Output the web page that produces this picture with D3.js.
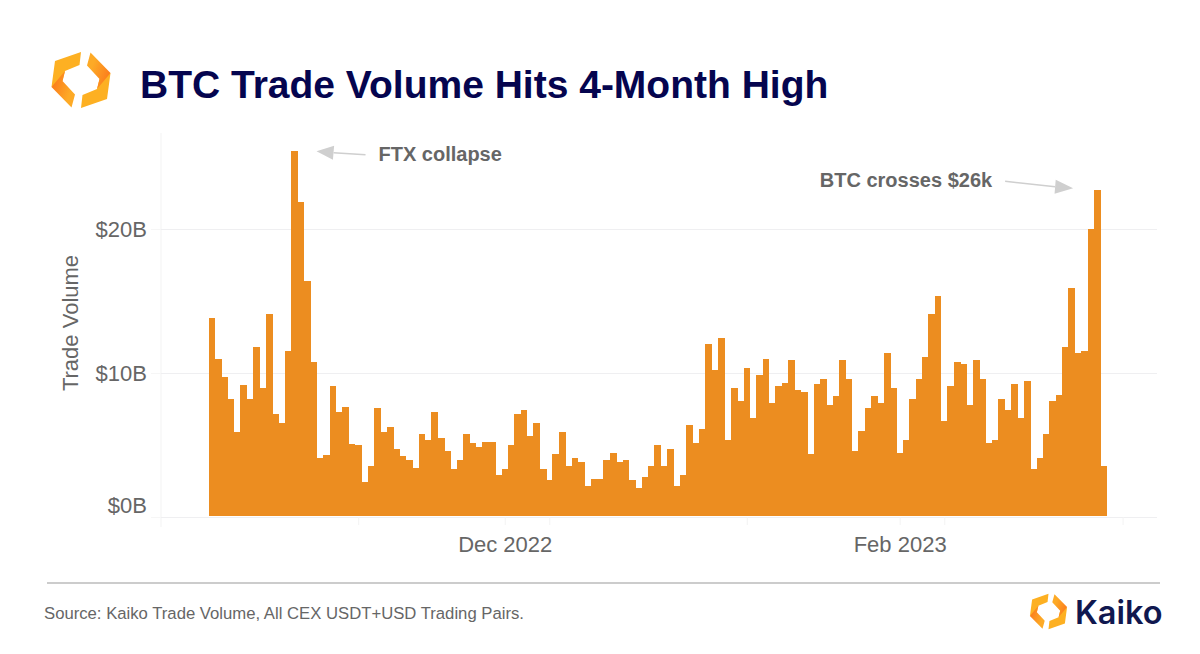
<!DOCTYPE html>
<html>
<head>
<meta charset="utf-8">
<script src="https://cdn.jsdelivr.net/npm/d3@7"></script>
<style>
	html, body { margin: 0; background: #fff; }
	svg { display: block; font-family: "Liberation Sans", Arial, sans-serif; }
	.tickText { fill: #666; font-size: 22px; }
	.note { fill: #666; font-size: 20px; font-weight: bold; }
</style>
</head>
<body>
<svg id="chart" width="1200" height="654"></svg>
<script>
//- data - - - - - - - - - - - - - - - - - - - - - - - - - - - - - - - - - - - -

var titleText = 'BTC Trade Volume Hits 4-Month High',
	sourceText = 'Source: Kaiko Trade Volume, All CEX USDT+USD Trading Pairs.',
	firstDay = new Date(2022, 9, 16);

// daily volume in $B
var volume = [
	13.8, 11.0, 9.72, 8.19, 5.9, 9.2, 8.19, 11.8, 8.96, 14.1,
	7.15, 6.53, 11.5, 25.4, 21.9, 16.4, 10.74, 4.07, 4.33, 9.07,
	7.29, 7.66, 5.09, 4.98, 2.41, 3.56, 7.55, 5.88, 6.25, 4.72,
	4.21, 3.96, 3.42, 5.74, 5.37, 7.29, 5.49, 4.58, 3.31, 3.96,
	5.74, 5.12, 4.86, 5.23, 5.23, 2.92, 3.31, 4.98, 7.15, 7.41,
	5.62, 6.5, 3.31, 2.55, 4.35, 5.88, 3.56, 4.07, 3.82, 2.18,
	2.66, 2.66, 3.93, 4.47, 3.82, 3.96, 2.55, 2.04, 2.8, 3.56,
	4.98, 3.56, 4.72, 2.18, 2.92, 6.39, 5.12, 6.13, 12.04, 10.23,
	12.41, 5.37, 8.94, 8.06, 10.35, 6.9, 9.84, 11.0, 7.92, 9.07,
	9.33, 10.88, 8.82, 8.7, 4.35, 9.21, 9.58, 7.78, 8.42, 10.88,
	9.58, 4.58, 6.0, 7.55, 8.42, 7.92, 11.39, 8.94, 4.47, 5.37,
	8.19, 9.58, 11.13, 14.1, 15.37, 6.67, 9.07, 10.74, 10.63, 7.8,
	10.88, 9.58, 5.12, 5.37, 8.19, 7.43, 9.21, 6.9, 9.47, 3.31,
	4.07, 5.76, 8.06, 8.45, 11.78, 15.88, 11.39, 11.53, 20.0, 22.69,
	3.56
];

var yTicks = [0, 10, 20],
	labelDays = [new Date(2022, 11, 1), new Date(2023, 1, 1)],
	labelNames = ['Dec 2022', 'Feb 2023'],
	minorDays = [new Date(2022, 10, 8), new Date(2022, 11, 8), new Date(2023, 0, 8),
		new Date(2023, 1, 8), new Date(2023, 2, 8)];

var notes = [
	{ text: 'FTX collapse', day: 13 },
	{ text: 'BTC crosses $26k', day: 139 }
];

//- scales  - - - - - - - - - - - - - - - - - - - - - - - - - - - - - - - - - - -

var svg = d3.select('#chart'),
	left = 161, right = 1157, barW = 6.37;

var days = volume.map(function (d, i) { return d3.timeDay.offset(firstDay, i); });

var x = d3.scaleTime()
	.domain([firstDay, days[days.length - 1]])
	.range([211.7, 1103.5]);

var y = d3.scaleLinear()
	.domain([0, 20])
	.range([517, 229]);

//- axes  - - - - - - - - - - - - - - - - - - - - - - - - - - - - - - - - - - - -

// plot frame, very faint
svg.append('line')
	.attr('x1', left).attr('x2', left)
	.attr('y1', 133).attr('y2', 527)
	.attr('stroke', '#f3f3f3');

var yAxis = svg.append('g')
	.attr('transform', 'translate(' + left + ',0)')
	.call(d3.axisLeft(y)
		.tickValues(yTicks)
		.tickSize(10)
		.tickPadding(4)
		.tickFormat(function (d) { return '$' + d + 'B'; }));

yAxis.select('.domain').remove();
yAxis.selectAll('.tick line').attr('stroke', '#f6f6f6');
yAxis.selectAll('.tick text')
	.attr('class', 'tickText')
	.attr('font-family', null)
	.attr('font-size', null);

// the bottom label sits above its gridline, the way the tool keeps it inside the plot
yAxis.selectAll('.tick text')
	.filter(function (d) { return d === 0; })
	.attr('y', -12);

svg.append('g')
	.attr('transform', 'translate(' + left + ',0)')
	.call(d3.axisLeft(y)
		.tickValues(yTicks)
		.tickSize(left - right)
		.tickFormat(''))
	.call(function (g) {
		g.select('.domain').remove();
		g.selectAll('line').attr('stroke', '#efeff1').attr('stroke-width', 1.2);
	});

var xMinor = svg.append('g')
	.attr('transform', 'translate(0,517)')
	.call(d3.axisBottom(x).tickValues(minorDays).tickSize(8).tickFormat(''));
xMinor.select('.domain').remove();
xMinor.selectAll('line').attr('stroke', '#f3f3f3');

var xAxis = svg.append('g')
	.attr('transform', 'translate(0,517)')
	.call(d3.axisBottom(x)
		.tickValues(labelDays)
		.tickSize(8)
		.tickPadding(11)
		.tickFormat(function (d, i) { return labelNames[i]; }));

xAxis.select('.domain').remove();
xAxis.selectAll('.tick line').attr('stroke', '#f3f3f3');
xAxis.selectAll('.tick text')
	.attr('class', 'tickText')
	.attr('font-family', null)
	.attr('font-size', null);

svg.append('text')
	.attr('class', 'tickText')
	.attr('transform', 'translate(78,323) rotate(-90)')
	.attr('text-anchor', 'middle')
	.text('Trade Volume');

//- bars  - - - - - - - - - - - - - - - - - - - - - - - - - - - - - - - - - - - -

svg.append('g').attr('class', 'bars')
	.attr('shape-rendering', 'crispEdges')
	.selectAll('rect')
	.data(volume)
	.enter()
	.append('rect')
	.attr('x', function (d, i) { return x(days[i]) - barW / 2; })
	.attr('y', function (d) { return y(d); })
	.attr('width', barW + 0.4)
	.attr('height', function (d) { return y(0) - 1 - y(d); })
	.attr('fill', '#ec8d20')
;

//- annotations - - - - - - - - - - - - - - - - - - - - - - - - - - - - - - - - -

function arrow(tail, base, tip, halfW)
{
	var dx = tip[0] - base[0], dy = tip[1] - base[1],
		len = Math.sqrt(dx * dx + dy * dy),
		nx = -dy / len * halfW, ny = dx / len * halfW;

	svg.append('line')
		.attr('x1', tail[0]).attr('y1', tail[1])
		.attr('x2', base[0]).attr('y2', base[1])
		.attr('stroke', '#cfcfcf').attr('stroke-width', 1.5);

	svg.append('polygon')
		.attr('points', [tip, [base[0] + nx, base[1] + ny], [base[0] - nx, base[1] - ny]].join(' '))
		.attr('fill', '#cfcfcf');
}

var ftx = [x(days[notes[0].day]), y(volume[notes[0].day])],
	cross = [x(days[notes[1].day]), y(volume[notes[1].day])];

arrow([ftx[0] + 71, ftx[1] + 3.5], [ftx[0] + 39, ftx[1] + 1.5], [ftx[0] + 22, ftx[1]], 7);
svg.append('text').attr('class', 'note')
	.attr('x', ftx[0] + 84).attr('y', ftx[1] + 9.5)
	.text(notes[0].text);

arrow([cross[0] - 92, cross[1] - 9], [cross[0] - 42, cross[1] - 3.5], [cross[0] - 24, cross[1] - 2], 7);
svg.append('text').attr('class', 'note')
	.attr('x', cross[0] - 105).attr('y', cross[1] - 3.5)
	.attr('text-anchor', 'end')
	.text(notes[1].text);

//- header and footer - - - - - - - - - - - - - - - - - - - - - - - - - - - - - -

var defs = svg.append('defs'),
	grad = defs.append('linearGradient').attr('id', 'logoFade')
		.attr('x1', 0).attr('y1', 0).attr('x2', 1).attr('y2', 0.6);
grad.append('stop').attr('offset', 0.15).attr('stop-color', '#fb7a1c');
grad.append('stop').attr('offset', 0.85).attr('stop-color', '#fdaa26');

function logo(cx, cy, k)
{
	var g = svg.append('g')
		.attr('transform', 'translate(' + cx + ',' + cy + ') scale(' + k + ')');

	[0, 180].forEach(function (angle) {
		var half = g.append('g').attr('transform', 'rotate(' + angle + ')');
		half.append('polygon')
			.attr('points', '0,-28 -26,-19 -29.5,7 -18.5,1 -16,-9 -1.5,-15')
			.attr('fill', '#fdb022');
		half.append('polygon')
			.attr('points', '-29.5,7 -9.5,27.5 -6,14.5 -18.5,1 -16,-9')
			.attr('fill', 'url(#logoFade)');
	});
}

logo(81, 80, 1);
logo(1048.5, 611.5, 0.63);

svg.append('text')
	.attr('x', 140).attr('y', 98)
	.attr('font-size', 39)
	.attr('font-weight', 'bold')
	.attr('fill', '#05054f')
	.text(titleText);

svg.append('line')
	.attr('x1', 47).attr('x2', 1160)
	.attr('y1', 583).attr('y2', 583)
	.attr('stroke', '#bbb').attr('stroke-width', 1.6);

svg.append('text')
	.attr('x', 44).attr('y', 619)
	.attr('font-size', 16.7)
	.attr('fill', '#666')
	.text(sourceText);

svg.append('text')
	.attr('x', 1075).attr('y', 624)
	.attr('font-family', 'Inter')
	.attr('font-size', 32.5)
	.attr('font-weight', 600)
	.attr('fill', '#10184f')
	.text('Kaiko');
</script>
</body>
</html>
